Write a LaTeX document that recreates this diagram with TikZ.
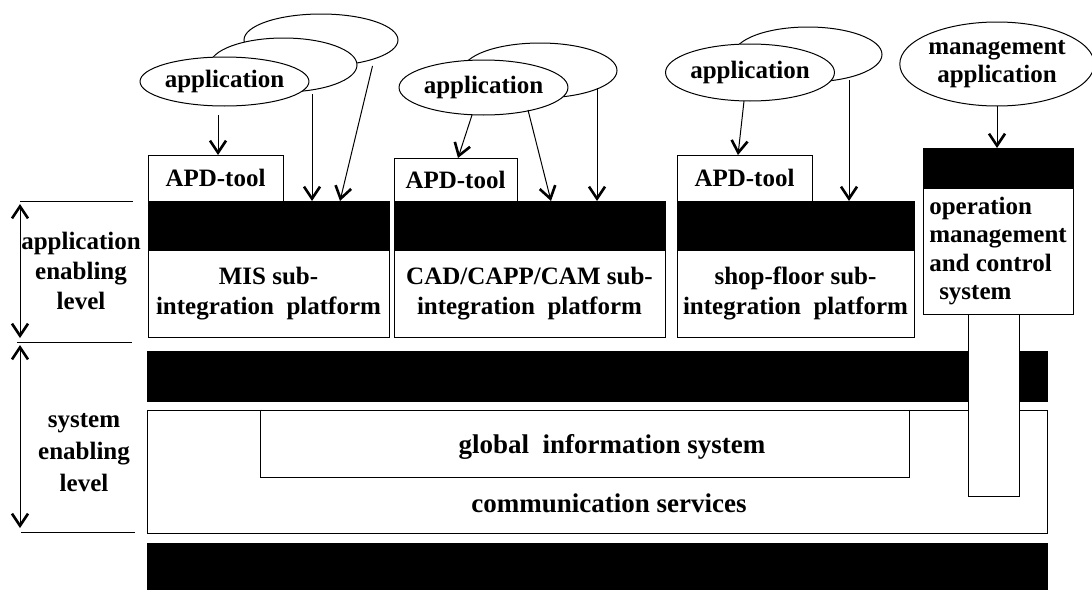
\documentclass[tikz,border=0pt]{standalone}
\usepackage{fontspec}
\setmainfont{Liberation Serif}
\usetikzlibrary{shapes.geometric,arrows.meta,calc}

\begin{document}
\begin{tikzpicture}[x=1pt,y=-1pt,
  every node/.style={font=\bfseries\fontsize{25}{30}\selectfont},
  big/.style={font=\bfseries\fontsize{27}{32}\selectfont, anchor=base},
  wbox/.style={draw, fill=white, line width=1pt, inner sep=0pt, outer sep=0pt,
    anchor=north west, align=center},
  bbar/.style={draw, fill=black, line width=1pt, inner sep=0pt, outer sep=0pt,
    anchor=north west},
  app/.style={ellipse, draw, fill=white, line width=1pt, inner sep=0pt,
    outer sep=0pt, align=center},
  barb/.tip={Straight Barb[length=12pt,width=16pt,line width=2.6pt]},
  arr/.style={line width=1pt, -barb},
  lvl/.style={line width=1pt, barb-barb, shorten <=3pt, shorten >=4pt},
  rule/.style={line width=1pt}
]
\useasboundingbox (0,0) rectangle (1092,589);

% level markers on the left
\coordinate (l1) at (20,201);  \coordinate (r1) at (133,201);
\coordinate (l2) at (17,342);  \coordinate (r2) at (132,342);
\coordinate (l3) at (21,532);  \coordinate (r3) at (135,532);
\draw[rule] (l1) -- (r1);
\draw[rule] (l2) -- (r2);
\draw[rule] (l3) -- (r3);
\draw[lvl] (l1) -- (l1 |- l2);
\draw[lvl] (l1 |- l2) -- (l1 |- l3);
\node[align=center] (lvlapp) at (81,271) {application\\enabling\\level};
\node[align=center, font=\bfseries\fontsize{25}{32}\selectfont] (lvlsys) at (84,453) {system\\enabling\\level};

% system enabling level
\node[bbar, minimum width=900pt, minimum height=50pt] (band) at (147,351) {};
\node[wbox, minimum width=900pt, minimum height=123pt] (comm) at (147,410) {};
\node[wbox, minimum width=649pt, minimum height=67pt] (gis) at (260,410) {};
\node[big] (gistxt) at (612,453) {global\ \ information system};
\node[big] (commtxt) at (609,512) {communication services};
\node[bbar, minimum width=900pt, minimum height=46pt] (base) at (147,543) {};

% MIS sub-integration platform
\node[wbox, minimum width=135pt, minimum height=46pt] (apd1) at (148,155) {APD-tool};
\node[bbar, minimum width=241pt, minimum height=49pt] (misbar) at (148,201) {};
\node[wbox, minimum width=241pt, minimum height=87pt] (mis) at (148,250) {MIS sub-\\integration\ \ platform};

% CAD/CAPP/CAM sub-integration platform
\node[wbox, minimum width=123pt, minimum height=43pt] (apd2) at (394,158) {APD-tool};
\node[bbar, minimum width=271pt, minimum height=49pt] (cadbar) at (394,201) {};
\node[wbox, minimum width=271pt, minimum height=87pt] (cad) at (394,250) {CAD/CAPP/CAM sub-\\integration\ \ platform};

% shop-floor sub-integration platform
\node[wbox, minimum width=135pt, minimum height=46pt] (apd3) at (677,155) {APD-tool};
\node[bbar, minimum width=237pt, minimum height=49pt] (shopbar) at (677,201) {};
\node[wbox, minimum width=237pt, minimum height=87pt] (shop) at (677,250) {shop-floor sub-\\integration\ \ platform};

% operation management and control system
\node[wbox, minimum width=51pt, minimum height=182pt] (pillar) at (968,314) {};
\node[bbar, minimum width=150pt, minimum height=40pt] (opbar) at (923,148) {};
\node[wbox, minimum width=150pt, minimum height=126pt, align=left,
  font=\bfseries\fontsize{25}{28.5}\selectfont] (op) at (923,188)
  {operation\\management\\and control\\\hspace*{10pt}system};

% applications
\node[app, minimum width=154pt, minimum height=52pt] (B1) at (321,40) {};
\node[app, minimum width=147pt, minimum height=54pt] (M1) at (283.5,65) {};
\node[app, minimum width=155pt, minimum height=49pt] (F1) at (224.5,81.5) {application};

\node[app, minimum width=154pt, minimum height=55pt] (B2) at (540,70.5) {};
\node[app, minimum width=153pt, minimum height=55pt] (F2) at (483.5,87.5) {application};

\node[app, minimum width=148pt, minimum height=55pt] (B3) at (808,54.5) {};
\node[app, minimum width=152pt, minimum height=57pt] (F3) at (750,72.5) {application};

\node[app, minimum width=190pt, minimum height=84pt,
  font=\bfseries\fontsize{25}{28}\selectfont] (ME) at (997,64) {management\\application};

% connectors
\draw[arr] ([xshift=-6.5pt,yshift=-9pt]F1.south) -- ([xshift=-6.5pt]F1.south |- apd1.north);
\draw[arr] ([xshift=28.5pt,yshift=-2pt]M1.south) -- ([xshift=28.5pt]M1.south |- misbar.north);
\draw[arr] ([xshift=51.5pt]B1.south) -- ([xshift=192pt]misbar.north west);

\draw[arr] ([xshift=-11.5pt]F2.south) -- ([xshift=64pt]apd2.north west);
\draw[arr] ([xshift=44.5pt,yshift=5pt]F2.south) -- ([xshift=157pt]cadbar.north west);
\draw[arr] ([xshift=57pt,yshift=10pt]B2.south) -- ([xshift=57pt]B2.south |- cadbar.north);

\draw[arr] ([xshift=-6pt]F3.south) -- ([xshift=61pt]apd3.north west);
\draw[arr] ([xshift=41pt,yshift=2pt]B3.south) -- ([xshift=41pt]B3.south |- shopbar.north);

\draw[arr] (ME.south) -- (ME.south |- opbar.north);
\end{tikzpicture}
\end{document}
